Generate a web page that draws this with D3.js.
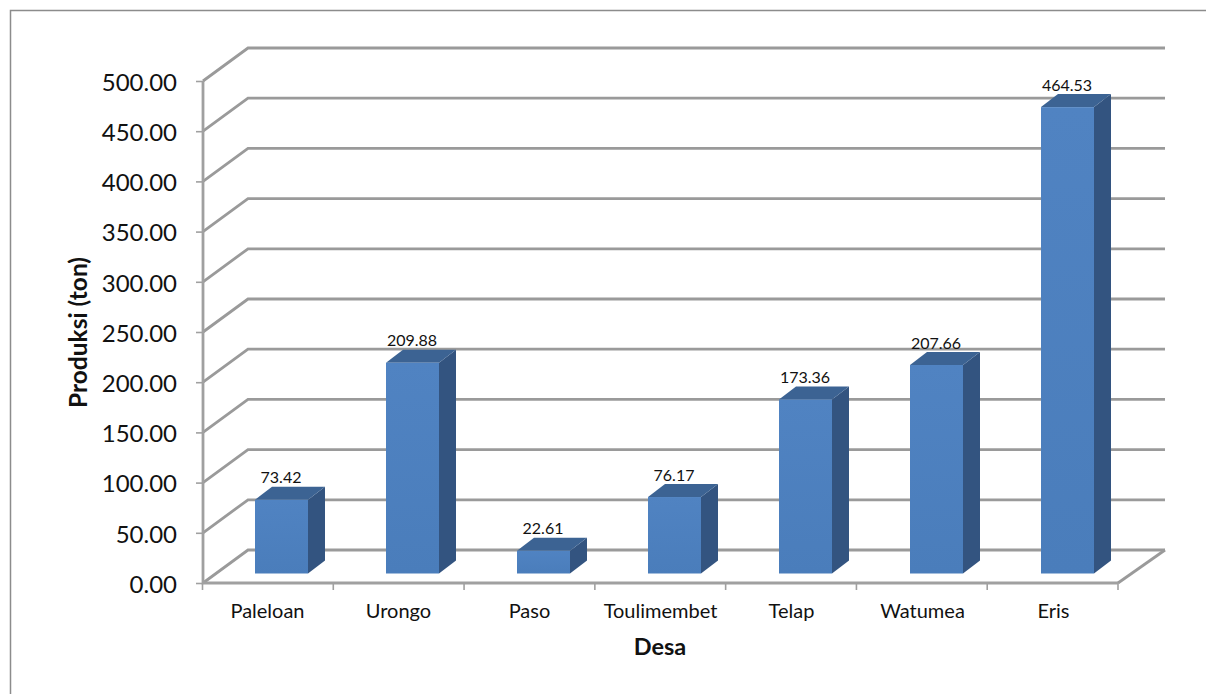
<!DOCTYPE html>
<html><head><meta charset="utf-8">
<script src="https://cdn.jsdelivr.net/npm/d3@7"></script>
<style>html,body{margin:0;padding:0;background:#fff}svg{display:block}text{font-family:Lato,"Open Sans",sans-serif;fill:#111}</style>
</head><body><svg id="c" width="1206" height="694"></svg>
<script>
const categories=["Paleloan","Urongo","Paso","Toulimembet","Telap","Watumea","Eris"];
const values=[73.42,209.88,22.61,76.17,173.36,207.66,464.53];
const valueLabels=["73.42","209.88","22.61","76.17","173.36","207.66","464.53"];
const yTicks=[0,50,100,150,200,250,300,350,400,450,500];
const svg=d3.select("#c");
const defs=svg.append("defs");
const g=defs.append("linearGradient").attr("id","front").attr("x1",0).attr("x2",0).attr("y1",0).attr("y2",1);
g.append("stop").attr("offset",0).attr("stop-color","#5083c2");
g.append("stop").attr("offset",1).attr("stop-color","#4a7dbb");
// chart frame
svg.append("path").attr("d","M10.5,694V10.5H1206").attr("fill","none").attr("stroke","#8c8c8c").attr("stroke-width",1.5);
const x0=203,x1=1118,yTop=81,yBot=583,dx=45,dy=33;
const y=d3.scaleLinear().domain([0,500]).range([yBot,yTop]);
const x=d3.scaleBand().domain(categories).range([x0,x0+917]);
const xTick=d3.scaleBand().domain(categories).range([x0-0.5,x1]);
const axisColor="#a0a0a0",wallColor="#9a9a9a";
const grid=svg.append("g").attr("fill","none").attr("stroke",wallColor).attr("stroke-width",2.8);
grid.selectAll("path").data(yTicks).join("path")
 .attr("d",d=>`M${x0},${y(d)}L${x0+dx},${y(d)-dy}H${x1+dx+2}`);
svg.append("path").attr("d",`M${x1},${yBot}L${x1+dx+2},${yBot-dy}`).attr("fill","none").attr("stroke",wallColor).attr("stroke-width",2.8);
svg.append("path").attr("d",`M${x0},${yTop}V${yBot}H${x1}`).attr("fill","none").attr("stroke",axisColor).attr("stroke-width",2.8);
const yAxis=d3.axisLeft(y).tickValues(yTicks).tickSize(7).tickFormat(d3.format(".2f"));
const ya=svg.append("g").attr("transform",`translate(${x0},0)`).call(yAxis);
ya.select(".domain").remove();
ya.selectAll("line").attr("stroke",axisColor).attr("stroke-width",1.6);
ya.selectAll("text").attr("x",-26).attr("dy","0.39em").attr("font-size",24).style("font-family","Lato");
const xa=svg.append("g").attr("transform",`translate(0,${yBot})`);
const edges=categories.map(c=>xTick(c)).concat([x1]);
xa.selectAll("line").data(edges).join("line").attr("x1",d=>d).attr("x2",d=>d).attr("y1",0).attr("y2",7).attr("stroke",axisColor).attr("stroke-width",1.6);
xa.selectAll("text").data(categories).join("text").attr("x",c=>x(c)+x.bandwidth()/2-1).attr("y",34.5).attr("text-anchor","middle").attr("font-size",20).text(d=>d);
// bars
const bw=53,off=52,bdx=17,bdy=13,base=yBot-9.5;
const bh=d3.scaleLinear().domain([0,500]).range([0,yBot-yTop]);
const bars=svg.append("g").selectAll("g").data(categories).join("g");
const L=(c)=>x(c)+off;
const T=(c,i)=>base-bh(values[i]);
bars.append("path").attr("fill","#335480").attr("d",(c,i)=>`M${L(c)+bw},${T(c,i)}l${bdx},${-bdy}V${base-bdy}l${-bdx},${bdy}Z`);
bars.append("path").attr("fill","#3c6393").attr("d",(c,i)=>`M${L(c)},${T(c,i)}l${bdx},${-bdy}h${bw}l${-bdx},${bdy}Z`);
bars.append("rect").attr("fill","url(#front)").attr("x",c=>L(c)).attr("y",(c,i)=>T(c,i)).attr("width",bw).attr("height",(c,i)=>bh(values[i]));
bars.append("text").attr("x",c=>L(c)+bw/2-0.5).attr("y",(c,i)=>T(c,i)-bdy-3.5).attr("text-anchor","middle").attr("font-size",16).text((c,i)=>valueLabels[i]);
// titles
svg.append("text").attr("x",660).attr("y",655).attr("text-anchor","middle").attr("font-size",23.5).attr("font-weight",700).text("Desa");
svg.append("text").attr("transform","translate(87,332.5) rotate(-90)").attr("text-anchor","middle").attr("font-size",24.5).attr("font-weight",700).text("Produksi (ton)");
</script></body></html>
